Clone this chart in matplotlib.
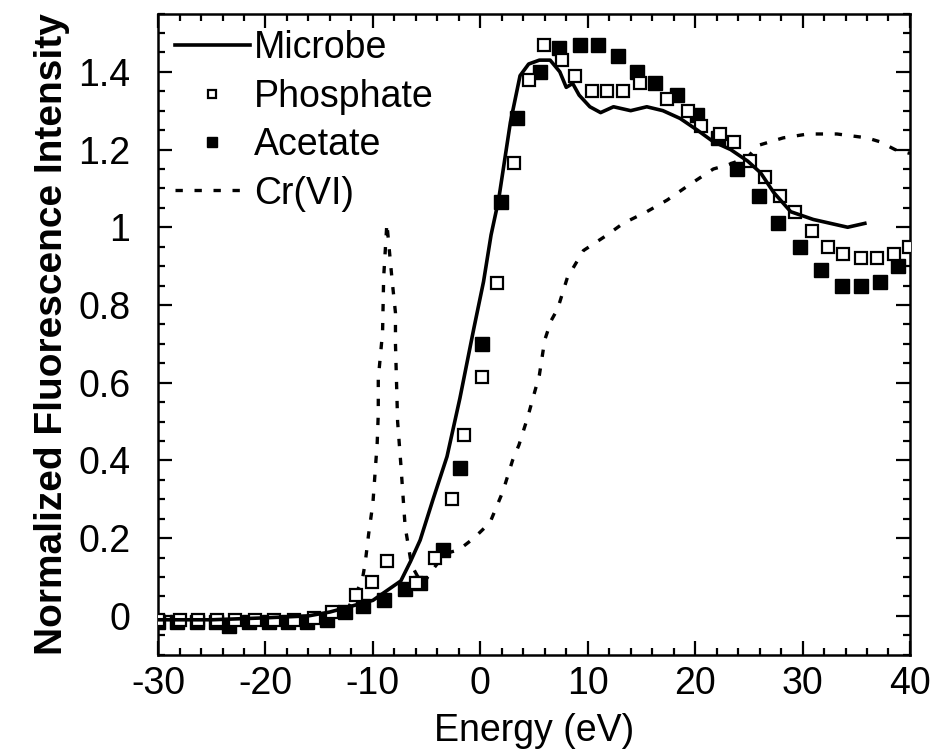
import numpy as np
import matplotlib.pyplot as plt
from matplotlib.ticker import MultipleLocator

plt.rcParams['font.family'] = ['Liberation Sans', 'DejaVu Sans']
plt.rcParams['axes.unicode_minus'] = False

fig_name = "out.png"

# ---------------- data ----------------
microbe_x = [-30, -25, -20, -16, -14, -12, -10, -8.7, -7.4, -6.5, -5.6, -4.4, -3.1, -1.9,
             -0.6, 0.3, 1.0, 1.7, 2.8, 3.7, 4.5, 5.5, 6.5, 7.4, 8.0, 8.6, 9.2, 10.2, 11.2,
             12.4, 14.0, 15.5, 17.0, 18.6, 20.2, 21.7, 23.3, 24.9, 26.1, 27.3, 28.9, 31.0,
             32.6, 34.2, 35.8]
microbe_y = [-0.01, -0.01, -0.005, 0.0, 0.01, 0.025, 0.04, 0.065, 0.09, 0.14, 0.195, 0.30,
             0.41, 0.56, 0.74, 0.86, 0.98, 1.07, 1.27, 1.39, 1.42, 1.43, 1.43, 1.40, 1.36,
             1.37, 1.34, 1.31, 1.295, 1.31, 1.30, 1.31, 1.30, 1.28, 1.25, 1.22, 1.20, 1.17,
             1.14, 1.09, 1.04, 1.02, 1.01, 1.00, 1.01]

phos_x = [-30, -28, -26.3, -24.5, -22.8, -21, -19.2, -17.3, -15.5, -13.8, -11.6, -10.1,
          -8.7, -6.0, -4.2, -2.6, -1.5, 0.2, 1.6, 3.1, 4.5, 5.9, 7.6, 8.8, 10.4, 11.8, 13.3,
          14.9, 17.4, 19.3, 20.5, 22.3, 23.6, 25.1, 26.5, 27.9, 29.3, 30.9, 32.4, 33.8,
          35.4, 36.9, 38.5, 39.9]
phos_y = [-0.01, -0.01, -0.01, -0.01, -0.01, -0.01, -0.01, -0.01, -0.005, 0.01, 0.054,
          0.087, 0.14, 0.085, 0.15, 0.30, 0.465, 0.615, 0.856, 1.165, 1.38, 1.47, 1.43,
          1.39, 1.35, 1.35, 1.35, 1.37, 1.33, 1.30, 1.26, 1.24, 1.22, 1.17, 1.13, 1.08,
          1.04, 0.99, 0.95, 0.93, 0.92, 0.92, 0.93, 0.95]

acet_x = [-30, -28.2, -26.4, -24.6, -23.4, -21.5, -19.7, -17.9, -16.1, -14.3, -12.6, -10.9,
          -9.0, -7.0, -5.6, -3.5, -1.9, 0.2, 1.9, 3.4, 5.6, 7.3, 9.3, 11.0, 12.8, 14.6,
          16.3, 18.3, 20.2, 22.1, 23.9, 25.9, 27.7, 29.8, 31.7, 33.7, 35.4, 37.2, 38.9]
acet_y = [-0.015, -0.015, -0.015, -0.015, -0.025, -0.015, -0.015, -0.015, -0.015, -0.01,
          0.01, 0.025, 0.04, 0.07, 0.085, 0.17, 0.38, 0.70, 1.065, 1.28, 1.40, 1.46, 1.47,
          1.47, 1.44, 1.40, 1.37, 1.34, 1.29, 1.23, 1.15, 1.08, 1.01, 0.95, 0.89, 0.85,
          0.85, 0.86, 0.90]

cr_x = [-30, -25, -20, -15, -12.5, -11.0, -10.7, -10.4, -10.0, -9.6, -9.5, -9.5, -9.1,
        -9.0, -8.7, -8.2, -7.9, -7.9, -7.7, -7.4, -7.2, -7.0, -6.4, -5.4, -4.4, -3.3,
        -2.0, -0.6, 0.9, 2.1, 3.0, 3.6, 4.4, 5.0, 5.5, 6.0, 6.6, 7.2, 8.1, 9.6, 11.8,
        13.3, 15.5, 17.4, 19.5, 21.7, 23.0, 24.9, 25.8, 27.0, 28.2, 30.5, 33.2, 36.0,
        37.2, 38.6, 40.0]
cr_y = [0.0, 0.0, 0.0, 0.0, 0.01, 0.09, 0.14, 0.21, 0.29, 0.445, 0.52, 0.61, 0.73, 0.87,
        1.01, 0.86, 0.78, 0.70, 0.50, 0.39, 0.31, 0.23, 0.13, 0.08, 0.12, 0.16, 0.17,
        0.20, 0.24, 0.32, 0.40, 0.44, 0.51, 0.57, 0.62, 0.71, 0.76, 0.79, 0.87, 0.94,
        0.98, 1.01, 1.04, 1.07, 1.11, 1.15, 1.16, 1.18, 1.21, 1.22, 1.23, 1.24, 1.24,
        1.23, 1.22, 1.20, 1.19]

# ---------------- plot ----------------
fig = plt.figure(figsize=(9.41, 7.5), dpi=100)
ax = fig.add_axes([0.168, 0.127, 0.799, 0.855])

ax.plot(cr_x, cr_y, color='black', lw=2.4, ls=(0, (2.2, 3.5)), label='Cr(VI)', zorder=2)
ax.plot(acet_x, acet_y, ls='none', marker='s', ms=10, mfc='black', mec='black',
        label='Acetate', zorder=3)
ax.plot(phos_x, phos_y, ls='none', marker='s', ms=9, mfc='white', mec='black', mew=1.6,
        label='Phosphate', zorder=4)
ax.plot(microbe_x, microbe_y, color='black', lw=2.6, label='Microbe', zorder=5)

handles, labels = ax.get_legend_handles_labels()
order = [3, 2, 1, 0]
ax.legend([handles[i] for i in order], [labels[i] for i in order], loc='upper left',
          frameon=False, fontsize=27, handlelength=2.0, handletextpad=0.1,
          labelspacing=0.33, borderpad=0, borderaxespad=0.45, markerscale=0.65)

ax.set_xlim(-30, 40)
ax.set_ylim(-0.1, 1.55)
ax.xaxis.set_major_locator(MultipleLocator(10))
ax.xaxis.set_minor_locator(MultipleLocator(2))
ax.yaxis.set_major_locator(MultipleLocator(0.2))
ax.yaxis.set_minor_locator(MultipleLocator(0.05))
ax.set_yticks([0, 0.2, 0.4, 0.6, 0.8, 1.0, 1.2, 1.4])
ax.set_yticklabels(['0', '0.2', '0.4', '0.6', '0.8', '1', '1.2', '1.4'])

ax.tick_params(axis='both', which='both', direction='in', top=True, right=True,
               labelsize=27, width=1.6)
ax.tick_params(axis='both', which='major', length=10)
ax.tick_params(axis='both', which='minor', length=5)
ax.tick_params(axis='x', pad=8)
ax.tick_params(axis='y', pad=20)
for s in ax.spines.values():
    s.set_linewidth(1.8)

ax.set_xlabel('Energy (eV)', fontsize=27, labelpad=8)
ax.set_ylabel('Normalized Fluorescence Intensity', fontsize=28, fontweight='bold',
              labelpad=6)

plt.savefig(fig_name, dpi=100, facecolor='w')
